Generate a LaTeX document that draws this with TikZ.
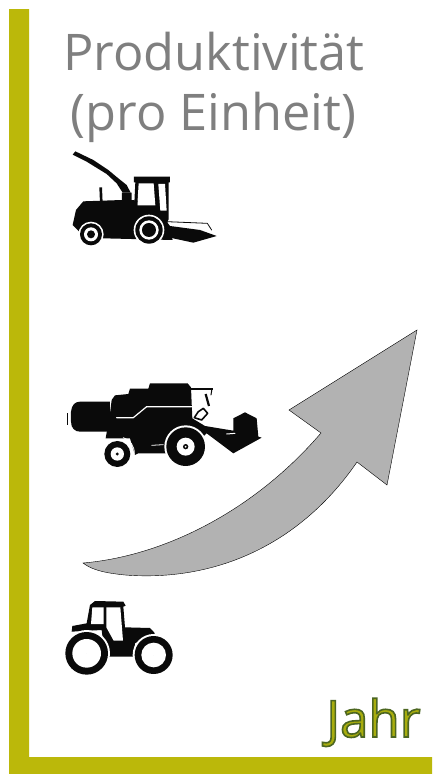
\documentclass[tikz,border=0pt]{standalone}
\usepackage{fontspec}
\setmainfont{Open Sans}
\definecolor{axisc}{HTML}{BBB80A}
\definecolor{titlec}{HTML}{7F7F7F}
\definecolor{arrowc}{HTML}{B2B2B2}
\definecolor{ink}{HTML}{0A0A0A}
\tikzset{
  axisbar/.style={fill=axisc,draw=none},
  titletext/.style={text=titlec,font=\fontsize{50.5}{60}\selectfont,anchor=base,inner sep=0pt},
  ink fill/.style={fill=ink,draw=none},
  paper/.style={fill=white,draw=none},
  gap/.style={draw=white,line width=1pt,line cap=round,line join=round},
  thin ink/.style={draw=ink,line width=1pt,line cap=round,line join=round},
}
\newcommand{\wheelat}[6]{% cx cy outer inner hub gap
  \fill[white] (#1,#2) circle[radius=#6];
  \fill[ink] (#1,#2) circle[radius=#3];
  \fill[white] (#1,#2) circle[radius=#4];
  \fill[ink] (#1,#2) circle[radius=#5];
}
\begin{document}
\begin{tikzpicture}[x=1pt,y=-1pt]
\useasboundingbox (0,0) rectangle (432,774);
\fill[white] (0,0) rectangle (432,774);
% axes
\fill[axisbar] (9,9) -- (29,9) -- (29,757) -- (432,757) -- (432,774) -- (9,774) -- cycle;
% title
\node[titletext] (title1) at (214,70) {Produktivität};
\node[titletext] (title2) at (213.5,130) {(pro Einheit)};
% Jahr
\node[inner sep=0pt,anchor=base] (jahr) at (373.5,737) {\fontsize{51}{60}\selectfont\special{pdf:code q 2 Tr 1.6 w 0.30 0.40 0.13 RG 0.66 0.68 0.05 rg}Jahr\special{pdf:code Q}};
% arrow
\draw[fill=arrowc,draw=black,line width=0.4pt,line join=miter]
  (83,563) .. controls (165,556) and (255,510) .. (321,433)
  -- (289,410) -- (417,330) -- (387,485) -- (357,462)
  .. controls (300,545) and (215,582) .. (125,575)
  .. controls (105,573) and (92,570) .. (83,563) -- cycle;
% forage harvester
\begin{scope}[shift={(50,140)},x=0.3333pt,y=-0.3333pt]
  \fill[ink fill] (68,44) -- (76,34) -- (130,60) -- (175,90) -- (205,115) -- (230,135) -- (242,158) -- (218,158) -- (200,130) -- (170,102) -- (110,65) -- cycle;
  \fill[ink fill] (148,142) -- (156,142) -- (158,190) -- (150,190) -- cycle;
  \fill[ink fill] (252,110) -- (360,110) -- (360,127) -- (356,127) -- (356,238) -- (350,250) -- (250,250) -- (256,127) -- (252,127) -- cycle;
  \fill[paper] (266,130) -- (311,130) -- (316,196) -- (262,196) -- cycle;
  \fill[paper] (325,132) -- (345,132) -- (350,212) -- (331,212) -- cycle;
  \fill[ink fill] (216,158) -- (245,158) -- (245,180) -- (262,182) -- (262,225) -- (345,222) -- (368,300) -- (160,295) -- (95,282) -- (68,255) -- (78,210) -- (100,184) -- (216,180) -- cycle;
  \fill[ink fill] (350,245) -- (360,258) -- (450,270) -- (500,288) -- (430,308) -- (355,292) -- cycle;
  \draw[thin ink,line width=0.8pt] (350,245) -- (472,250) -- (485,270);
  \wheelat{123}{283}{33}{21}{12}{38}
  \wheelat{297}{270}{41}{29}{21}{46}
\end{scope}
% combine harvester
\begin{scope}[shift={(55,370)},x=0.3333pt,y=-0.3333pt]
  \fill[ink fill] (36,130) rectangle (39,165);
  \fill[ink fill] (48,125) .. controls (50,105) and (60,95) .. (75,95) -- (165,95) -- (165,185) -- (75,185) .. controls (60,185) and (48,175) .. (48,155) -- cycle;
  \fill[ink fill] (170,90) -- (180,76) -- (220,72) -- (225,56) -- (280,56) -- (285,40) -- (398,40) -- (408,52) -- (412,145) -- (450,168) -- (535,182) -- (535,145) -- (570,127) -- (605,145) -- (610,200) -- (620,203) -- (535,250) -- (455,190) -- (430,215) -- (340,250) -- (250,250) -- (240,255) -- (225,205) -- (152,205) -- (165,130) -- cycle;
  \draw[gap,line width=1.2pt] (185,143) -- (235,143) -- (275,110) -- (410,110);
  \draw[gap,line width=1pt] (515,192) -- (540,190);
  \draw[gap,line width=0.8pt] (290,226) -- (325,224);
  \draw[thin ink,line width=2.2pt,line cap=butt] (405,56) -- (473,56);
  \draw[thin ink,line width=1pt] (471,56) -- (468,75);
  \draw[thin ink,line width=2.2pt,line cap=butt] (452,72) -- (462,108);
  \draw[thin ink,line width=1.6pt] (418,143) -- (430,125) -- (445,115) -- (458,130) -- (440,150) -- cycle;
  \wheelat{187}{252}{39}{20}{5}{43}
  \draw[gap,line width=0.8pt] (205,203) .. controls (224,208) and (239,228) .. (238,252);
  \wheelat{392}{230}{58}{27}{8}{64}
  \fill[white] (392,230) circle[radius=3];
\end{scope}
% tractor
\begin{scope}[shift={(55,590)},x=0.3333pt,y=-0.3333pt]
  \fill[ink fill] (105,45) -- (120,33) -- (205,35) -- (212,47) -- (205,50) -- (210,112) -- (285,114) -- (300,130) -- (240,160) -- (235,200) -- (150,200) -- (140,120) -- (50,125) -- (52,108) -- (95,100) -- cycle;
  \fill[paper] (112,52) -- (146,52) -- (146,102) -- (108,102) -- cycle;
  \fill[paper] (154,52) -- (196,52) -- (204,152) -- (176,152) -- (154,112) -- cycle;
  \wheelat{95}{190}{64}{43}{0}{70}
  \wheelat{296}{195}{57}{37}{0}{63}
\end{scope}
\end{tikzpicture}
\end{document}
